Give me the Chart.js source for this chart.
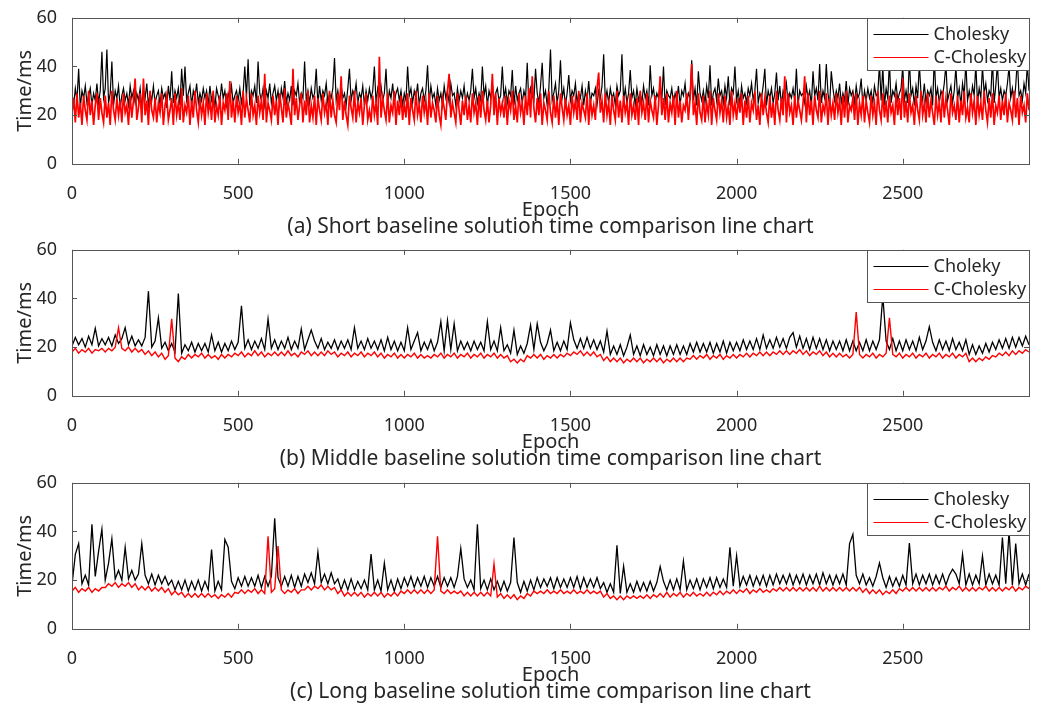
<!DOCTYPE html>
<html>
<head>
<meta charset="utf-8">
<title>Baseline solution time comparison</title>
<script src="https://cdn.jsdelivr.net/npm/chart.js@4.4.1/dist/chart.umd.min.js"></script>
<style>
  html, body { margin: 0; padding: 0; background: #fff; }
  #wrap { position: relative; width: 1037px; height: 709px; overflow: hidden; }
  canvas { position: absolute; left: 0; }
</style>
</head>
<body>
<div id="wrap">
  <canvas id="chartA" width="1037" height="240" style="top:0px"></canvas>
  <canvas id="chartB" width="1037" height="240" style="top:232px"></canvas>
  <canvas id="chartC" width="1037" height="240" style="top:465px"></canvas>
</div>
<script>
var xTicks = [0, 500, 1000, 1500, 2000, 2500];
var yTicks = [0, 20, 40, 60];

// (a) short baseline, one sample every 5 epochs
var shortStep = 5;
var shortCholesky = [
  29, 24, 31, 26, 39, 23, 30, 27, 32, 25, 28, 31, 24, 29, 26, 33, 25, 30, 46, 27,
  31, 47, 25, 29, 42, 24, 30, 27, 32, 23, 28, 31, 26, 29, 24, 32, 27, 30, 25, 29,
  26, 31, 23, 30, 27, 33, 24, 29, 26, 32, 25, 28, 30, 24, 31, 27, 29, 23, 32, 26,
  38, 25, 30, 27, 31, 24, 39, 28, 40, 26, 29, 32, 24, 30, 27, 33, 25, 29, 26, 31,
  27, 30, 24, 32, 26, 29, 23, 31, 28, 25, 33, 27, 30, 24, 29, 26, 32, 25, 28, 30,
  26, 31, 25, 29, 40, 27, 43, 24, 30, 28, 32, 25, 42, 29, 26, 31, 24, 30, 27, 33,
  25, 29, 32, 26, 30, 24, 31, 27, 34, 25, 29, 26, 32, 24, 30, 28, 33, 25, 29, 27,
  42, 26, 30, 25, 31, 27, 29, 39, 24, 32, 26, 30, 28, 33, 25, 29, 27, 31, 43.5, 26,
  30, 25, 32, 27, 29, 24, 31, 39, 26, 30, 28, 33, 25, 29, 27, 32, 24, 30, 26, 31,
  27, 30, 40, 25, 31, 28, 32, 26, 29, 39, 24, 30, 27, 33, 25, 29, 31, 26, 30, 24,
  29, 26, 40, 28, 31, 25, 30, 27, 33, 24, 29, 31, 26, 30, 40.5, 25, 32, 27, 29, 24,
  31, 26, 29, 24, 32, 27, 30, 25, 33, 28, 29, 24, 31, 26, 30, 27, 32, 25, 29, 26,
  30, 39, 27, 31, 25, 29, 26, 40, 28, 32, 24, 30, 27, 33, 25, 29, 31, 26, 28, 40,
  27, 31, 25, 30, 28, 38.5, 24, 32, 26, 29, 31, 25, 30, 27, 41.5, 24, 31, 28, 26, 39,
  29, 25, 32, 41.5, 27, 30, 24, 31, 47, 26, 29, 33, 25, 30, 42.5, 27, 31, 24, 29, 36.5,
  26, 30, 28, 33, 25, 29, 27, 32, 24, 30, 26, 34, 25, 29, 28, 31, 24, 30, 27, 32,
  45, 26, 30, 25, 31, 27, 29, 24, 32, 28, 30, 45, 26, 31, 25, 29, 38.5, 27, 30, 24,
  31, 26, 29, 25, 32, 27, 30, 24, 40.5, 28, 31, 25, 29, 27, 33, 26, 40, 24, 30, 28,
  27, 31, 25, 29, 26, 32, 24, 30, 28, 33, 25, 29, 27, 42.5, 26, 31, 24, 38, 29, 26,
  30, 25, 32, 27, 40.5, 24, 29, 31, 26, 35, 28, 30, 25, 32, 27, 36, 24, 31, 29, 40,
  26, 30, 24, 32, 27, 29, 25, 31, 28, 33, 26, 30, 39, 25, 29, 27, 32, 39, 24, 30,
  27, 31, 25, 29, 37.5, 26, 32, 24, 30, 28, 33, 25, 29, 27, 31, 26, 39, 24, 30, 28,
  29, 25, 32, 27, 30, 24, 38, 28, 31, 26, 41, 25, 30, 27, 41, 29, 24, 38, 31, 26,
  30, 27, 33, 25, 29, 26, 34, 24, 31, 28, 30, 25, 32, 27, 29, 35, 24, 30, 26, 31,
  27, 30, 25, 32, 28, 29, 41, 26, 40, 24, 31, 27, 42, 25, 30, 28, 33, 26, 29, 31,
  40, 26, 30, 25, 43, 28, 31, 24, 32, 27, 41, 29, 26, 33, 25, 30, 28, 31, 24, 44,
  27, 31, 25, 30, 28, 33, 41, 26, 29, 32, 25, 30, 40, 27, 31, 24, 33, 28, 42, 26,
  30, 26, 32, 28, 41, 25, 31, 27, 40, 29, 33, 26, 30, 28, 43, 25, 32, 41, 27, 31,
  26, 30, 28, 33, 40, 27, 31, 25, 32, 43, 28, 30, 26, 33, 29, 41, 30
];
var shortCCholesky = [
  21, 27, 17, 29, 19, 25, 16, 28, 22, 18, 30, 20, 26, 16, 24, 29, 18, 27, 21, 17,
  28, 19, 25, 16, 30, 22, 18, 27, 20, 26, 17, 29, 21, 24, 16, 28, 19, 26, 35, 18,
  23, 29, 17, 35, 20, 26, 16, 30, 22, 19, 27, 17, 25, 21, 29, 16, 24, 28, 18, 22,
  27, 16, 29, 20, 25, 18, 31, 17, 24, 21, 28, 16, 26, 19, 30, 22, 17, 27, 20, 25,
  16, 29, 21, 26, 18, 30, 17, 24, 20, 28, 16, 25, 22, 29, 18, 34, 19, 26, 17, 28,
  21, 25, 16, 30, 19, 27, 22, 17, 29, 20, 24, 16, 28, 21, 26, 18, 37, 17, 25, 22,
  18, 28, 20, 26, 16, 29, 23, 17, 31, 19, 25, 21, 16, 39, 20, 27, 18, 24, 29, 17,
  26, 20, 30, 17, 24, 19, 28, 16, 27, 22, 18, 29, 21, 25, 16, 30, 19, 26, 20, 17,
  29, 22, 36, 18, 26, 20, 16, 28, 23, 19, 30, 17, 25, 21, 27, 16, 24, 29, 18, 22,
  17, 28, 20, 25, 16, 44, 19, 27, 22, 18, 29, 17, 24, 21, 30, 16, 26, 20, 28, 18,
  25, 19, 29, 16, 27, 22, 18, 30, 20, 24, 17, 28, 21, 26, 16, 29, 19, 25, 22, 17,
  28, 20, 16, 27, 23, 18, 30, 37, 19, 25, 21, 17, 29, 22, 16, 26, 20, 28, 18, 24,
  17, 29, 21, 25, 16, 28, 19, 30, 22, 18, 26, 17, 24, 37, 20, 29, 16, 27, 21, 25,
  19, 28, 16, 26, 22, 30, 18, 24, 17, 29, 21, 25, 16, 28, 20, 31, 19, 36, 23, 17,
  27, 20, 29, 16, 25, 22, 18, 30, 21, 17, 28, 19, 26, 16, 29, 23, 18, 27, 20, 24,
  16, 28, 21, 26, 18, 30, 17, 25, 22, 19, 29, 16, 27, 20, 24, 18, 31, 37.5, 21, 26,
  17, 29, 20, 25, 16, 28, 22, 18, 30, 19, 26, 17, 28, 21, 25, 16, 29, 20, 24, 18,
  27, 16, 30, 21, 25, 18, 29, 17, 26, 22, 19, 28, 16, 24, 36, 20, 27, 18, 29, 17,
  25, 21, 28, 16, 30, 19, 26, 17, 24, 22, 29, 18, 27, 41, 20, 25, 16, 29, 21, 18,
  28, 17, 25, 20, 30, 16, 27, 22, 18, 29, 21, 26, 17, 28, 19, 24, 16, 30, 20, 25,
  18, 27, 21, 29, 16, 26, 19, 28, 17, 25, 22, 30, 18, 24, 16, 29, 20, 27, 21, 17,
  28, 19, 25, 16, 30, 22, 18, 27, 20, 36, 17, 29, 21, 24, 16, 28, 19, 26, 22, 18,
  25, 36, 17, 29, 20, 26, 16, 28, 22, 19, 30, 17, 24, 21, 29, 16, 27, 20, 25, 18,
  29, 21, 26, 16, 28, 19, 30, 17, 24, 22, 27, 18, 29, 16, 25, 20, 28, 17, 26, 21,
  17, 28, 20, 25, 16, 30, 22, 18, 29, 19, 26, 17, 28, 21, 24, 16, 29, 20, 27, 18,
  35, 19, 26, 17, 29, 21, 24, 16, 28, 22, 18, 30, 20, 25, 17, 29, 19, 26, 21, 16,
  28, 20, 25, 17, 30, 19, 27, 22, 16, 29, 21, 24, 18, 28, 17, 26, 20, 30, 19, 23,
  17, 29, 21, 26, 16, 28, 20, 25, 18, 30, 22, 17, 27, 19, 29, 16, 24, 21, 28, 18,
  26, 20, 29, 17, 25, 22, 18, 30, 19, 27, 16, 28, 21, 24, 17, 29, 22
];

// (b) middle baseline, one sample every 10 epochs
var middleStep = 10;
var middleCholesky = [
  20.5, 24, 21, 23.5, 20, 24.5, 21, 27.7, 20.5, 23.5,
  21, 24, 20.5, 25, 21.5, 23.5, 28, 21, 24.5, 20.5,
  23, 20.5, 24, 43, 20, 22.5, 32, 19.5, 22, 18.5,
  21.5, 18, 42, 17.5, 21, 18.5, 22, 18, 21.5, 18.5,
  21.5, 18, 25, 18.5, 22, 18, 21.5, 18.5, 22.5, 19,
  22, 37, 19.5, 23, 19, 22.5, 19.5, 23.5, 19, 31.6,
  19.5, 23, 19, 22.5, 19.5, 24, 19, 22.5, 19.5, 27.5,
  19, 23, 27, 22.5, 19.5, 23.5, 19, 22, 19.5, 23,
  19, 22.5, 19.5, 23, 19, 28, 19.5, 22.5, 19, 23.5,
  19.5, 22.5, 19, 23, 18.5, 24, 19, 22.5, 18.5, 22,
  18.5, 28, 19, 22.5, 26, 18.5, 22, 19, 23, 18.5,
  22, 30.5, 18.5, 31, 19, 29.6, 18.5, 22.5, 19, 22,
  18.5, 22.5, 19, 22, 18.5, 30.5, 19, 22.5, 18.5, 28,
  18.5, 21, 17.5, 27, 17, 20.5, 17.5, 21.5, 29, 19,
  29.6, 22, 18.5, 21.5, 27, 18.5, 22, 18.5, 22.5, 19,
  30, 23, 19.5, 23.5, 19.5, 24, 19.5, 23, 19, 22.5,
  18, 26.6, 17, 20.5, 17, 21, 16.5, 20, 25, 17,
  20.5, 16.5, 21, 17, 20, 16.5, 21, 17, 20.5, 16.5,
  20.5, 17, 21, 17, 20.5, 17, 21.5, 18, 22, 18,
  21.5, 18, 22, 17.5, 21.5, 18, 22.5, 17.5, 22, 18.5,
  22, 18.5, 23, 19, 22.5, 19, 23.5, 19, 25, 19.5,
  23, 19.5, 24, 20, 23.5, 19.5, 24, 26, 20, 24.5,
  19.5, 23.5, 19, 24, 19.5, 23.5, 19, 23, 18.5, 22.5,
  19, 22.5, 18.5, 23, 18.5, 22.5, 18.5, 22, 18.5, 23,
  18.5, 22.5, 19, 23, 41, 22.5, 19, 23.5, 18.5, 22.5,
  18.5, 23, 19, 22.5, 18.5, 24, 19, 22.5, 28.4, 22,
  18.5, 23, 19, 22.5, 18.5, 23.5, 19, 22, 18.5, 23,
  17, 21, 17, 20.5, 17.5, 21.5, 18, 22, 19, 23,
  19.5, 23.5, 19.5, 24, 20, 24, 20.5, 24.5, 21
];
var middleCCholesky = [
  18, 19.5, 17.5, 19, 18, 19.5, 17.5, 19, 18.5, 19.5,
  18, 19.5, 18.5, 20, 28, 19.5, 18.5, 20, 18, 19.5,
  18, 19, 17, 18.5, 16.5, 18, 16, 17.5, 15, 16.5,
  31.6, 15.5, 14, 16, 15, 17, 15.5, 17, 16, 17.5,
  15.5, 17, 15.5, 16.5, 15, 17, 15.5, 17, 16, 17.5,
  16.5, 18, 16, 17.5, 16.5, 18.5, 16.5, 18, 16, 17.5,
  16.5, 18, 16.5, 18, 16.5, 18.5, 16.5, 17.5, 16, 18,
  17, 18.5, 16.5, 18, 16.5, 18, 16.5, 18.5, 17, 18,
  16, 17.5, 16.5, 18, 16, 17.5, 16.5, 18, 16, 17.5,
  16.5, 18, 16, 17.5, 15.5, 17, 16, 17.5, 15.5, 17,
  15.5, 17, 16, 17.5, 15.5, 17, 15.5, 16.5, 15.5, 17,
  16, 17.5, 15.5, 17, 16, 17.5, 15.5, 17, 16, 17.5,
  15.5, 17, 16, 17.5, 15.5, 17, 16, 17.5, 15.5, 17,
  15.5, 16.5, 14, 15, 13.5, 15, 14, 16.5, 15.5, 17,
  15.5, 17, 15, 16.5, 15.5, 17, 15.5, 17, 16, 17.5,
  16.5, 18, 17, 18.5, 16.5, 18, 16.5, 18, 16, 17,
  14.5, 16, 14, 15.5, 14, 15.5, 13.5, 15, 14, 15.5,
  14, 15.5, 13.5, 15, 14, 15.5, 14, 15.5, 13.5, 15,
  14, 15.5, 14, 15.5, 14, 15.5, 15, 16.5, 15, 16.5,
  15.5, 17, 15, 16.5, 15.5, 17, 15, 16.5, 15.5, 17,
  15.5, 17, 16, 17.5, 16, 17.5, 16.5, 18, 16.5, 18,
  16.5, 18, 17, 18.5, 17, 18.5, 17, 18.5, 17.5, 19,
  17, 18.5, 16.5, 18, 17, 18.5, 16.5, 18, 16, 17.5,
  16, 17.5, 16, 17, 15.5, 17, 34.4, 17, 15.5, 17,
  16, 17.5, 15.5, 17, 16, 17.5, 32, 17, 16, 17.5,
  15.5, 17, 16, 17.5, 15.5, 17, 16, 17.5, 15.5, 17,
  16, 17.5, 15.5, 17, 16, 17.5, 15.5, 17, 16, 17.5,
  14, 15.5, 14, 15.5, 14.5, 16, 15, 16.5, 16, 17.5,
  16.5, 18, 16.5, 18.5, 17, 18.5, 17.5, 19, 18
];

// (c) long baseline, one sample every 10 epochs
var longStep = 10;
var longCholesky = [
  18, 30.6, 35, 18.5, 22, 18, 43, 21.5, 31.8, 41,
  20, 27, 37, 20.5, 24, 20, 33.5, 20.5, 24, 20,
  22.5, 35, 22, 18.5, 22.5, 18, 22, 18.5, 21.5, 18,
  20, 16, 19.5, 16, 20, 15.5, 19.5, 16, 20, 15.5,
  19.5, 16, 32.6, 15.5, 19.5, 16, 36.7, 33.5, 19.5, 16.5,
  21, 17.5, 21.5, 17.5, 21, 17.5, 22, 17, 21.5, 17.5,
  21.5, 45.4, 21, 17.5, 21.5, 17.5, 22, 17, 21.5, 17.5,
  22.5, 19, 23, 18.5, 31.5, 19, 22.5, 18.5, 23, 18.5,
  20.5, 16, 20, 16, 20.5, 16, 19.5, 16.5, 20, 16,
  30.7, 16, 20, 15.5, 27, 16, 20, 15.5, 20.5, 16.5,
  21, 17.5, 21.5, 17, 21, 17.5, 21.5, 17, 21, 17.5,
  21.5, 17, 21, 17.5, 21, 17, 21.5, 33, 20.5, 17,
  20, 16, 43, 16.5, 20, 16, 20.5, 16, 19.5, 15.5,
  19.5, 15.5, 19, 37.5, 19, 15, 19.5, 15.5, 20, 16,
  21, 17, 20.5, 17.5, 21, 16.5, 21, 17, 20.5, 17,
  21, 17, 21.5, 16.5, 21, 17, 20.5, 17, 21, 16.5,
  19, 15, 18.5, 15, 34.3, 14.5, 25.7, 15, 18.5, 15,
  19.5, 15.5, 19, 15.5, 19.5, 15.5, 19, 25.6, 19.5, 16,
  20, 16, 20.5, 16, 27.8, 16, 20, 16.5, 20.5, 16,
  20.5, 17, 21, 16.5, 21, 17, 20.5, 17, 33.5, 17.5,
  30, 17.5, 21.5, 18, 22, 17.5, 21.5, 18, 22, 17.5,
  22, 18, 22.5, 18.5, 22, 18.5, 22.5, 18, 22, 18.5,
  22.5, 18, 22, 18.5, 22.5, 18, 23, 18.5, 22, 18,
  22, 18.5, 22.5, 18, 35, 38.8, 22, 18.5, 22.5, 18,
  21, 17.5, 21.5, 27, 21, 17, 21.5, 17.5, 21, 17.5,
  22, 18, 35.2, 18.5, 22.5, 18, 22, 18.5, 22.5, 18,
  22, 18.5, 22.5, 18, 22, 24.5, 22.5, 18.5, 30.6, 18,
  22.5, 18, 22, 18.5, 30, 18, 22.5, 18.5, 22, 18,
  37.5, 18.5, 40, 18, 35, 18.5, 22.5, 18, 22.5
];
var longCCholesky = [
  15.5, 17, 15, 16.5, 15.5, 17, 15, 16.5, 15.5, 17,
  17, 18.5, 17.5, 19, 17, 18.5, 17.5, 19, 17, 18.5,
  16, 17.5, 16, 17.5, 15.5, 17, 15.5, 17, 15, 16.5,
  14, 15.5, 14, 15, 13, 14.5, 13, 14.5, 13, 14.5,
  13, 14.5, 13, 14, 12.5, 14, 13, 14.5, 13, 15,
  14.5, 16, 14.5, 16, 15, 16.5, 14.5, 16, 14.5, 38,
  15, 16.5, 34, 16, 14.5, 16, 15, 16.5, 14.5, 16,
  16, 17.5, 16, 17.5, 16.5, 18, 16, 17.5, 16, 17,
  14.5, 16, 13.5, 15, 13.5, 15, 13.5, 15, 13, 14.5,
  13.5, 15, 13.5, 15, 13, 14.5, 13.5, 15, 13.5, 15.5,
  14.5, 16, 14.5, 16, 14.5, 16, 14.5, 16, 14.5, 16,
  38, 15.5, 14.5, 16, 14.5, 15.5, 14.5, 15.5, 13.5, 15,
  13.5, 15, 13.5, 15, 13.5, 15, 13.5, 26.7, 13, 14.5,
  12.5, 14, 12.5, 14, 12, 13.5, 12.5, 14.5, 13.5, 15.5,
  14.5, 15.5, 14.5, 16, 14.5, 15.5, 14.5, 16, 14.5, 15.5,
  14.5, 16, 14.5, 15.5, 14.5, 16, 14.5, 15.5, 14.5, 15.5,
  13, 14.5, 12.5, 13.5, 12, 13.5, 12, 13.5, 12.5, 13.5,
  12.5, 13.5, 12.5, 14, 12.5, 14, 13, 14.5, 13, 15,
  13, 14.5, 13.5, 15, 13, 14.5, 13.5, 15, 13.5, 14.5,
  13.5, 15, 13.5, 15, 14, 15.5, 14, 15.5, 14.5, 16,
  14.5, 16, 15, 16.5, 14.5, 16, 15, 16.5, 15, 16,
  15, 16.5, 15.5, 17, 15.5, 17, 15.5, 17, 15.5, 17,
  15.5, 17, 15.5, 17, 15.5, 17.5, 15.5, 17, 15.5, 17,
  15.5, 17, 15.5, 17, 15.5, 17, 15.5, 17, 15, 16.5,
  14.5, 16, 14.5, 16, 14, 15.5, 14.5, 16, 14.5, 16.5,
  15.5, 17, 15.5, 17, 15.5, 17, 15.5, 17, 15.5, 17,
  15.5, 17, 16, 17.5, 15.5, 17, 16, 17.5, 15.5, 17,
  15.5, 17, 15.5, 17, 16, 17.5, 15.5, 17, 15.5, 17,
  15.5, 17, 16, 17.5, 15.5, 17, 16, 17.5, 16.5
];

var AXIS = '#555555';
var TEXT = '#262626';
Chart.defaults.font.family = "'Noto Sans', 'DejaVu Sans', sans-serif";
Chart.defaults.color = TEXT;

// box, inside tick marks and a legend inside the plot (matlab style)
var frameAndLegend = {
  id: 'frameAndLegend',
  afterDatasetsDraw: function(chart) {
    var ctx = chart.ctx, a = chart.chartArea, sx = chart.scales.x, sy = chart.scales.y;
    ctx.save();
    ctx.strokeStyle = AXIS;
    ctx.lineWidth = 1;
    ctx.beginPath();
    sx.ticks.forEach(function(t) {
      var px = Math.round(sx.getPixelForValue(t.value)) + 0.5;
      ctx.moveTo(px, a.bottom); ctx.lineTo(px, a.bottom - 5);
      ctx.moveTo(px, a.top); ctx.lineTo(px, a.top + 5);
    });
    sy.ticks.forEach(function(t) {
      var py = Math.round(sy.getPixelForValue(t.value)) + 0.5;
      ctx.moveTo(a.left, py); ctx.lineTo(a.left + 5, py);
      ctx.moveTo(a.right, py); ctx.lineTo(a.right - 5, py);
    });
    ctx.stroke();
    ctx.strokeRect(Math.round(a.left) + 0.5, Math.round(a.top) + 0.5, Math.round(a.width), Math.round(a.height));

    // legend
    var w = 162, h = 52;
    var lx = Math.round(a.right) - w + 0.5, ly = Math.round(a.top) + 0.5;
    ctx.fillStyle = '#fff';
    ctx.fillRect(lx, ly, w, h);
    ctx.strokeStyle = AXIS;
    ctx.strokeRect(lx, ly, w, h);
    ctx.font = "18px 'Noto Sans', sans-serif";
    ctx.textBaseline = 'middle';
    ctx.lineWidth = 1;
    chart.data.datasets.forEach(function(ds, i) {
      var y = ly + 16 + i * 23;
      ctx.strokeStyle = ds.borderColor;
      ctx.beginPath();
      ctx.moveTo(lx + 6, y); ctx.lineTo(lx + 61, y);
      ctx.stroke();
      ctx.fillStyle = TEXT;
      ctx.fillText(ds.label, lx + 66, y);
    });
    ctx.restore();
  }
};

function toPoints(values, step) {
  return values.map(function(v, i) { return {x: i * step, y: v}; });
}

function makeChart(id, black, red, step, widths, names, caption) {
  return new Chart(document.getElementById(id).getContext('2d'), {
    type: 'line',
    data: {
      datasets: [
        { label: names[0], data: toPoints(black, step), borderColor: '#000000', borderWidth: widths[0], pointRadius: 0, order: 2 },
        { label: names[1], data: toPoints(red, step), borderColor: '#ff0000', borderWidth: widths[1], pointRadius: 0, order: 1 }
      ]
    },
    options: {
      responsive: false,
      animation: false,
      events: [],
      layout: { padding: { top: 16, right: 8, left: 0, bottom: 0 } },
      scales: {
        x: {
          type: 'linear', min: 0, max: 2880,
          afterBuildTicks: function(s) { s.ticks = xTicks.map(function(v) { return {value: v}; }); },
          afterFit: function(s) { s.height = 51; },
          grid: { display: false },
          border: { display: false },
          ticks: { padding: 11, font: { size: 18 }, callback: function(v) { return String(v); } },
          title: { display: true, text: 'Epoch', font: { size: 20 }, padding: { top: 0, bottom: -7 } }
        },
        y: {
          type: 'linear', min: 0, max: 60,
          afterBuildTicks: function(s) { s.ticks = yTicks.map(function(v) { return {value: v}; }); },
          afterFit: function(s) { s.width = 72; },
          grid: { display: false },
          border: { display: false },
          ticks: { padding: 7, font: { size: 18 }, callback: function(v) { return String(v); } },
          title: { display: true, text: 'Time/ms', font: { size: 20 }, padding: { top: 13, bottom: 0 } }
        }
      },
      plugins: {
        legend: { display: false },
        tooltip: { enabled: false },
        title: {
          display: true, position: 'bottom', fullSize: false,
          text: caption, color: TEXT,
          font: { size: 21, weight: 'normal' },
          padding: { top: 0, bottom: 0 }
        }
      }
    },
    plugins: [frameAndLegend]
  });
}

makeChart('chartA', shortCholesky, shortCCholesky, shortStep, [1.2, 1.7], ['Cholesky', 'C-Cholesky'],
  '(a) Short baseline solution time comparison line chart');
makeChart('chartB', middleCholesky, middleCCholesky, middleStep, [1.3, 1.4], ['Choleky', 'C-Cholesky'],
  '(b) Middle baseline solution time comparison line chart');
makeChart('chartC', longCholesky, longCCholesky, longStep, [1.3, 1.4], ['Cholesky', 'C-Cholesky'],
  '(c) Long baseline solution time comparison line chart');
</script>
</body>
</html>
